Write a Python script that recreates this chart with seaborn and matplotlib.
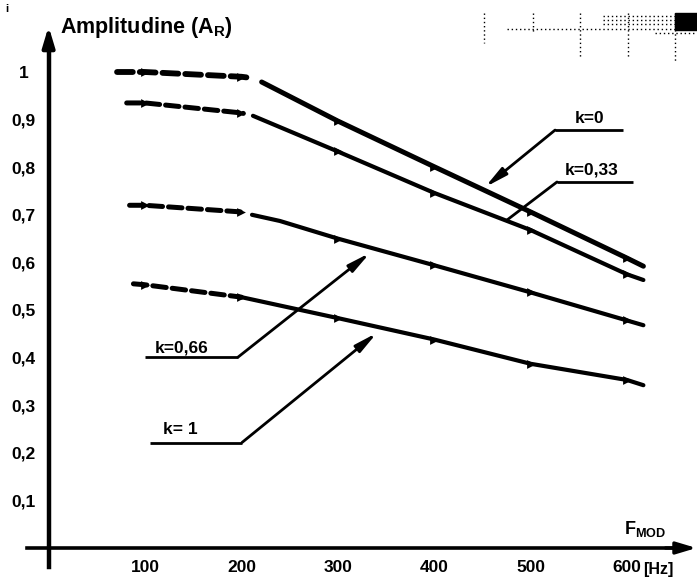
import matplotlib
matplotlib.use("Agg")
import matplotlib.pyplot as plt
from matplotlib.lines import Line2D
from matplotlib.patches import Rectangle
import pandas as pd
import seaborn as sns

# ---------------- data ----------------
k_values = ["0", "0,33", "0,66", "1"]

freq_dash_k0 = [71, 100, 200, 212]
amp_dash_k0 = [1.000, 1.000, 0.990, 0.987]
freq_solid_k0 = [221, 300, 400, 500, 600, 617]
amp_solid_k0 = [0.979, 0.897, 0.801, 0.706, 0.609, 0.592]

freq_dash_k033 = [81, 100, 200, 202]
amp_dash_k033 = [0.935, 0.935, 0.914, 0.913]
freq_solid_k033 = [212, 300, 400, 500, 600, 617]
amp_solid_k033 = [0.908, 0.833, 0.746, 0.668, 0.575, 0.563]

freq_dash_k066 = [84, 100, 200, 202]
amp_dash_k066 = [0.720, 0.720, 0.706, 0.705]
freq_solid_k066 = [211, 240, 300, 400, 500, 600, 617]
amp_solid_k066 = [0.700, 0.687, 0.650, 0.594, 0.537, 0.478, 0.468]

freq_dash_k1 = [88, 100, 200]
amp_dash_k1 = [0.555, 0.553, 0.527]
freq_solid_k1 = [200, 300, 400, 500, 600, 617]
amp_solid_k1 = [0.527, 0.483, 0.438, 0.387, 0.353, 0.342]

marked_freqs = [100, 200, 300, 400, 500, 600]

x_ticks = [100, 200, 300, 400, 500, 600]
x_tick_labels = ["100", "200", "300", "400", "500", "600"]
y_ticks = [0.1, 0.2, 0.3, 0.4, 0.5, 0.6, 0.7, 0.8, 0.9, 1.0]
y_tick_labels = ["0,1", "0,2", "0,3", "0,4", "0,5", "0,6", "0,7", "0,8", "0,9", "1"]

label_texts = ["k=0", "k=0,33", "k=0,66", "k= 1"]

# ---------------- tables ----------------
dash_sets = [(freq_dash_k0, amp_dash_k0), (freq_dash_k033, amp_dash_k033),
             (freq_dash_k066, amp_dash_k066), (freq_dash_k1, amp_dash_k1)]
solid_sets = [(freq_solid_k0, amp_solid_k0), (freq_solid_k033, amp_solid_k033),
              (freq_solid_k066, amp_solid_k066), (freq_solid_k1, amp_solid_k1)]

rows = []
for k, (f, a) in zip(k_values, dash_sets):
    rows += [dict(k=k, part="dash", F=fi, A=ai) for fi, ai in zip(f, a)]
for k, (f, a) in zip(k_values, solid_sets):
    rows += [dict(k=k, part="solid", F=fi, A=ai) for fi, ai in zip(f, a)]
df = pd.DataFrame(rows)

# ---------------- style ----------------
sns.set_theme(style="white")
FONT = ["Liberation Sans", "DejaVu Sans"]
plt.rcParams["font.family"] = FONT
plt.rcParams["font.weight"] = "bold"
plt.rcParams["mathtext.fontset"] = "custom"
plt.rcParams["mathtext.rm"] = "Liberation Sans:bold"
plt.rcParams["mathtext.it"] = "Liberation Sans:bold"
plt.rcParams["mathtext.bf"] = "Liberation Sans:bold"

W, H, DPI = 697, 586, 100
fig = plt.figure(figsize=(W / DPI, H / DPI), dpi=DPI)
ax = fig.add_axes([0, 0, 1, 1])
ax.set_facecolor("white")

# pixel mapping: origin at (48.6, 548), 0.964 px/Hz, 476 px/unit
ax.set_xlim(-48.6 / 0.964, (W - 48.6) / 0.964)
ax.set_ylim((548 - H) / 476, 548 / 476)

# ---------------- curves ----------------
widths = {"0": 3.6, "0,33": 3.0, "0,66": 3.0, "1": 3.0}
for k in k_values:
    d = df[(df.k == k) & (df.part == "dash")]
    s = df[(df.k == k) & (df.part == "solid")]
    sns.lineplot(data=d, x="F", y="A", ax=ax, color="black", estimator=None,
                 sort=False, lw=widths[k] + 0.6, linestyle=(0, (2.7, 1.2)),
                 dash_capstyle="round", legend=False)
    sns.lineplot(data=s, x="F", y="A", ax=ax, color="black", estimator=None,
                 sort=False, lw=widths[k], solid_capstyle="round", legend=False)

marks = df[df.F.isin(marked_freqs)].drop_duplicates(subset=["k", "F"])
sns.scatterplot(data=marks, x="F", y="A", ax=ax, color="black", marker=">",
                s=40, linewidth=0, legend=False, zorder=4)

# ---------------- axes ----------------
for side in ["top", "right"]:
    ax.spines[side].set_visible(False)
ax.spines["left"].set_position(("data", 0))
ax.spines["bottom"].set_position(("data", 0))
ax.spines["left"].set_bounds(-0.04, 1.06)
ax.spines["bottom"].set_bounds(-22, 650)
ax.spines["left"].set_linewidth(3.2)
ax.spines["bottom"].set_linewidth(2.6)
ax.spines["left"].set_color("black")
ax.spines["bottom"].set_color("black")

# arrow heads on axes
ax.annotate("", xy=(0, 1.096), xytext=(0, 1.05),
            arrowprops=dict(arrowstyle="-|>,head_length=1.0,head_width=0.3",
                            lw=3.0, color="black", shrinkA=0, shrinkB=0),
            annotation_clip=False)
ax.annotate("", xy=(672, 0), xytext=(640, 0),
            arrowprops=dict(arrowstyle="-|>,head_length=1.0,head_width=0.3",
                            lw=2.4, color="black", shrinkA=0, shrinkB=0),
            annotation_clip=False)

ax.set_xticks(x_ticks)
ax.set_xticklabels(x_tick_labels)
ax.set_yticks(y_ticks)
ax.set_yticklabels(y_tick_labels)
ax.tick_params(axis="x", direction="in", length=3, width=2, pad=9,
               labelsize=12.5, colors="black")
ax.tick_params(axis="y", direction="out", length=3, width=2, pad=15,
               labelsize=12.5, colors="black")
for lbl in ax.get_yticklabels():
    lbl.set_horizontalalignment("center")
    lbl.set_fontweight("bold")
for lbl in ax.get_xticklabels():
    lbl.set_fontweight("bold")
ax.set_xlabel("")
ax.set_ylabel("")
ax.grid(False)

# ---------------- texts ----------------
ax.text(11.5, 1.082, r"Amplitudine (A$_{\mathrm{R}}$)", fontsize=15.5,
        fontweight="bold", ha="left", va="baseline", color="black")
ax.text(597, 0.03, r"F$_{\mathrm{MOD}}$", fontsize=13, fontweight="bold",
        ha="left", va="baseline", color="black")
ax.text(617, -0.046, "[Hz]", fontsize=11.5, fontweight="bold",
        ha="left", va="center", color="black")

# labels with leader lines: (text centre, underline start, underline end, tip)
leaders = [
    ((561, 0.903), (525.4, 0.878), (596, 0.878), (452.7, 0.758), True),
    ((563, 0.794), (527.4, 0.769), (606, 0.769), (475.5, 0.689), False),
    ((137.5, 0.420), (196.5, 0.401), (100, 0.401), (333.4, 0.620), True),
    ((136.4, 0.248), (200.6, 0.2216), (105.3, 0.2216), (340.6, 0.452), True),
]
for txt, (tc, u0, u1, tip, head) in zip(label_texts, leaders):
    ax.text(tc[0], tc[1], txt, fontsize=12.5, fontweight="bold",
            ha="center", va="center", color="black")
    ax.plot([u0[0], u1[0]], [u0[1], u1[1]], color="black", lw=2.0,
            solid_capstyle="butt")
    style = "-|>,head_length=1.1,head_width=0.22" if head else "-"
    ax.annotate("", xy=tip, xytext=u0,
                arrowprops=dict(arrowstyle=style, lw=2.0, color="black",
                                shrinkA=0, shrinkB=0))

# ---------------- scan marks at the top right of the original page ----------------
def fx(px):
    return px / W


def fy(py):
    return 1 - py / H


dot = dict(color="black", lw=1.0, linestyle=(0, (1, 2)))
for px, y0, y1 in [(484, 13, 43), (533, 13, 33), (580, 13, 58),
                   (628, 13, 58), (675, 13, 63)]:
    fig.add_artist(Line2D([fx(px), fx(px)], [fy(y0), fy(y1)], **dot))
for y, x0, x1 in [(29, 507, 697), (16, 603, 675), (20, 603, 675),
                  (24, 603, 675), (33, 655, 697)]:
    fig.add_artist(Line2D([fx(x0), fx(x1)], [fy(y), fy(y)], **dot))
fig.add_artist(Rectangle((fx(675), fy(30)), fx(697) - fx(675), fy(13) - fy(30),
                         transform=fig.transFigure, color="black"))
fig.text(fx(5), fy(12), "i", fontsize=8, color="black")

fig.savefig("out.png", dpi=DPI, facecolor="white")
